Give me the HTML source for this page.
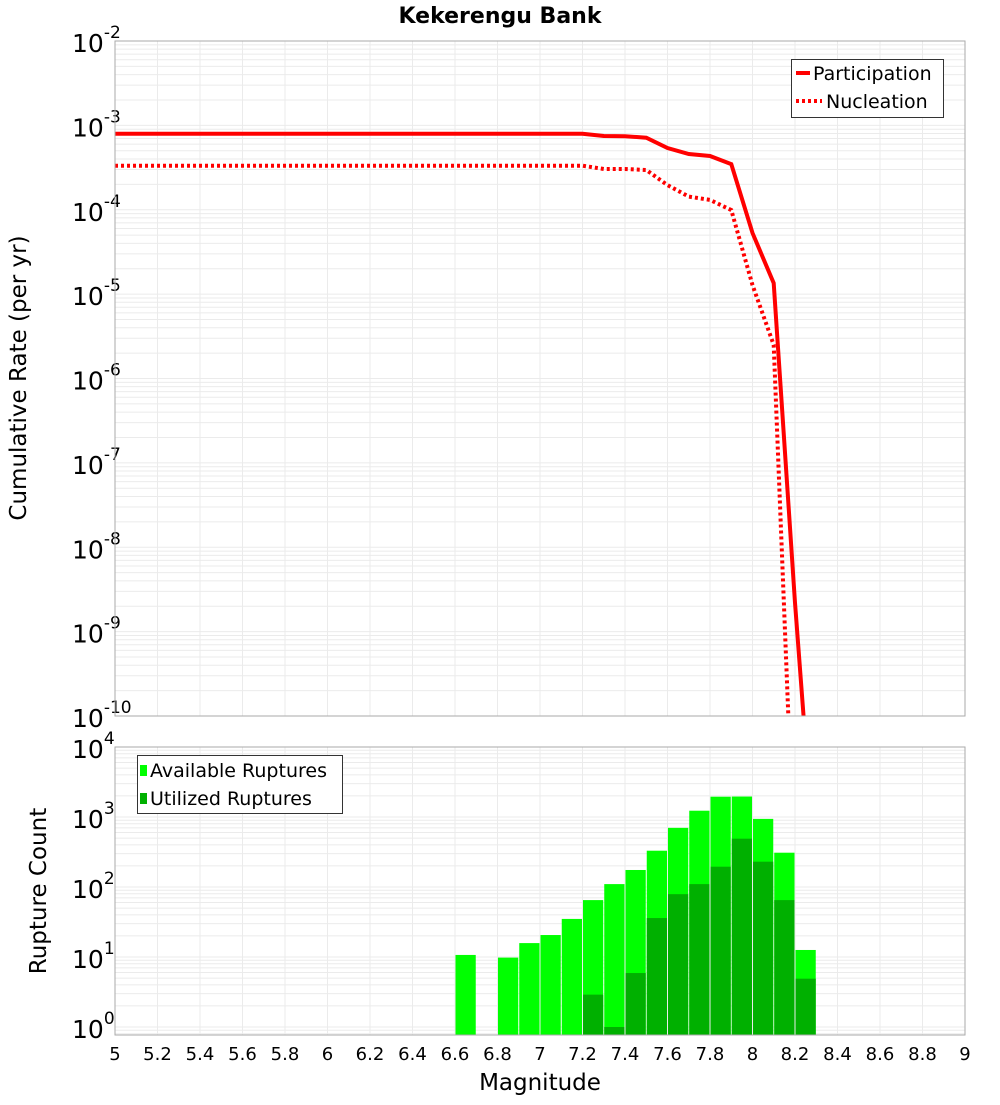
<!DOCTYPE html>
<html><head><meta charset="utf-8"><style>
body{margin:0;background:#fff}
svg text{font-family:"DejaVu Sans","Liberation Sans",sans-serif}
</style></head><body>
<svg id="c" width="1000" height="1100" xmlns="http://www.w3.org/2000/svg"></svg>
<script>
const mags=[5,5.1,5.2,5.3,5.4,5.5,5.6,5.7,5.8,5.9,6,6.1,6.2,6.3,6.4,6.5,6.6,6.7,6.8,6.9,7,7.1,7.2,7.3,7.4,7.5,7.6,7.7,7.8,7.9,8.0,8.1,8.2,8.3];
const partic=[7.96e-4,7.96e-4,7.96e-4,7.96e-4,7.96e-4,7.96e-4,7.96e-4,7.96e-4,7.96e-4,7.96e-4,7.96e-4,7.96e-4,7.96e-4,7.96e-4,7.96e-4,7.96e-4,7.96e-4,7.96e-4,7.96e-4,7.96e-4,7.96e-4,7.96e-4,7.96e-4,7.48e-4,7.45e-4,7.15e-4,5.4e-4,4.58e-4,4.33e-4,3.48e-4,5.3e-5,1.35e-5,2.2e-9,1e-12];
const nucl=[3.33e-4,3.33e-4,3.33e-4,3.33e-4,3.33e-4,3.33e-4,3.33e-4,3.33e-4,3.33e-4,3.33e-4,3.33e-4,3.33e-4,3.33e-4,3.33e-4,3.33e-4,3.33e-4,3.33e-4,3.33e-4,3.33e-4,3.33e-4,3.33e-4,3.33e-4,3.33e-4,3.04e-4,3.04e-4,2.96e-4,1.96e-4,1.43e-4,1.31e-4,9.9e-5,1.28e-5,2.5e-6,1e-12,1e-12];
const barMags=[6.6,6.8,6.9,7.0,7.1,7.2,7.3,7.4,7.5,7.6,7.7,7.8,7.9,8.0,8.1,8.2];
const available=[10.7,9.8,15.8,20.6,35,65,110,175,330,700,1230,1950,1960,940,309,12.6];
const utilized=[0,0,0,0,0,2.9,1.0,5.9,36,79,110,195,490,230,65,4.9];
const xTicks=[5,5.2,5.4,5.6,5.8,6,6.2,6.4,6.6,6.8,7,7.2,7.4,7.6,7.8,8,8.2,8.4,8.6,8.8,9];
const topExp=[-2,-3,-4,-5,-6,-7,-8,-9,-10];
const botExp=[4,3,2,1,0];

const NS="http://www.w3.org/2000/svg",svg=document.getElementById('c');
function el(t,a,p){const e=document.createElementNS(NS,t);for(const k in a)e.setAttribute(k,a[k]);(p||svg).appendChild(e);return e;}
const L=115,R=965,T1=41,B1=716,T2=747,B2=1035;
const x=m=>L+(m-5)/4*(R-L);
const y1=v=>T1+(-2-Math.log10(v))*84.375;
const y2=v=>T2+(4-Math.log10(v))*70;
// grids
function grid(top,bot,dmin,dmax,yf,name){
  const g=el('g',{});
  for(let d=dmin;d<dmax;d++)for(let k=1;k<10;k++){const yy=yf(k*Math.pow(10,d));if(yy>=top&&yy<=bot)el('line',{x1:L,x2:R,y1:yy,y2:yy,stroke:'#ebebeb','stroke-width':1},g);}
  xTicks.forEach(t=>el('line',{x1:x(t),x2:x(t),y1:top,y2:bot,stroke:'#ebebeb','stroke-width':1},g));
}
grid(T1,B1,-10,-2,y1,'top-grid');
grid(T2,B2,-1,4,y2,'bottom-grid');
// title
let t=el('text',{x:500,y:23,'text-anchor':'middle','font-size':22,'font-weight':'bold'});t.textContent='Kekerengu Bank';

// top y ticks
topExp.forEach(e=>{const yy=y1(Math.pow(10,e));const tx=el('text',{x:72,y:yy+11,'font-size':25});

tx.textContent='10';const s=el('tspan',{dy:-14,'font-size':17},tx);s.textContent=String(e);});
botExp.forEach(e=>{const yy=y2(Math.pow(10,e));const tx=el('text',{x:72,y:yy+11,'font-size':25});

tx.textContent='10';const s=el('tspan',{dy:-14,'font-size':17},tx);s.textContent=String(e);});
xTicks.forEach(m=>{const tx=el('text',{x:x(m),y:1060,'text-anchor':'middle','font-size':18});tx.textContent=String(m);
});
t=el('text',{x:0,y:0,'font-size':23,'text-anchor':'middle',transform:'translate(26,378) rotate(-90)'});t.textContent='Cumulative Rate (per yr)';

t=el('text',{x:0,y:0,'font-size':23,'text-anchor':'middle',transform:'translate(46,891) rotate(-90)'});t.textContent='Rupture Count';

t=el('text',{x:540,y:1090,'font-size':23,'text-anchor':'middle'});t.textContent='Magnitude';

// lines
el('clipPath',{id:'cp1'}).appendChild(document.createElementNS(NS,'rect'));
const cr=document.querySelector('#cp1 rect');cr.setAttribute('x',L);cr.setAttribute('y',T1);cr.setAttribute('width',R-L);cr.setAttribute('height',B1-T1);
function line(vals,dash,name){const d=vals.map((v,i)=>(i?'L':'M')+x(mags[i]).toFixed(1)+','+y1(v).toFixed(1)).join('');
const p=el('path',{d:d,fill:'none',stroke:'#ff0000','stroke-width':4,'clip-path':'url(#cp1)'});if(dash)p.setAttribute('stroke-dasharray','3,3');
}
line(nucl,true,'nucleation-line');
line(partic,false,'participation-line');
// bars
const bw=(x(5.1)-x(5))-1;
barMags.forEach((m,i)=>{
 const a=el('rect',{x:x(m)+0.5,y:y2(available[i]),width:bw,height:B2-y2(available[i]),fill:'#00ff00'});
 
 if(utilized[i]>0){const u=el('rect',{x:x(m)+0.5,y:y2(utilized[i]),width:bw,height:B2-y2(utilized[i]),fill:'#00b000'});
 }
});
// frames
el('rect',{x:L,y:T1,width:R-L,height:B1-T1,fill:'none',stroke:'#aaa'});
el('rect',{x:L,y:T2,width:R-L,height:B2-T2,fill:'none',stroke:'#aaa'});
</script>
<svg style="position:absolute;left:0;top:0" width="1000" height="1100">
<g>
<rect x="791.5" y="59.5" width="152" height="58" fill="#fff" stroke="#333"/>
<line x1="796" y1="73" x2="810" y2="73" stroke="#f00" stroke-width="4"/>
<text x="813" y="80" font-size="19" font-family="DejaVu Sans,Liberation Sans,sans-serif">Participation</text>
<line x1="796" y1="101" x2="822" y2="101" stroke="#f00" stroke-width="4" stroke-dasharray="3,3"/>
<text x="826" y="108" font-size="19" font-family="DejaVu Sans,Liberation Sans,sans-serif">Nucleation</text>
</g>
<g>
<rect x="137.5" y="755.5" width="205" height="58" fill="#fff" stroke="#333"/>
<rect x="140" y="765" width="7" height="11" fill="#00ff00"/>
<text x="150" y="777" font-size="19" font-family="DejaVu Sans,Liberation Sans,sans-serif">Available Ruptures</text>
<rect x="140" y="793" width="7" height="11" fill="#00b000"/>
<text x="150" y="805" font-size="19" font-family="DejaVu Sans,Liberation Sans,sans-serif">Utilized Ruptures</text>
</g>
</svg>
</body></html>
